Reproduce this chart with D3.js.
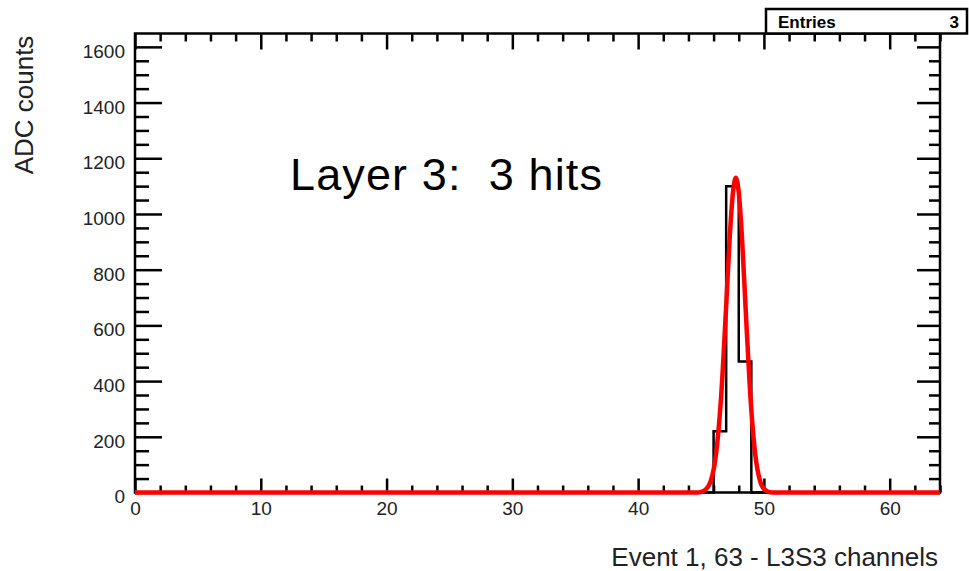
<!DOCTYPE html>
<html>
<head>
<meta charset="utf-8">
<script src="https://cdn.jsdelivr.net/npm/d3@7"></script>
<style>
  body { margin: 0; background: #fff; }
  svg { display: block; font-family: "Liberation Sans", Arial, sans-serif; }
  .axis path { display: none; }
  .axis line { stroke: #000; stroke-width: 2.5; }
  .axis text { font-size: 19px; fill: #222; }
</style>
</head>
<body>
<svg id="chart" width="969" height="571"></svg>
<script>
const nBins = 64;
const hitChannels = [46, 47, 48];
const hitCounts = [220, 1100, 470];
const entries = 3;

// red fit curve (channel, ADC counts)
const fitX = [0, 44.8, 45.3, 45.8, 46.2, 46.6, 47.0, 47.3, 47.55, 47.77, 48.0, 48.25, 48.55, 48.9, 49.3, 49.7, 50.1, 50.6, 64];
const fitY = [0, 0, 8, 45, 140, 345, 670, 930, 1082, 1130, 1078, 921, 658, 363, 141, 41, 9, 0, 0];

const xMajor = [0, 10, 20, 30, 40, 50, 60];
const yMajor = [0, 200, 400, 600, 800, 1000, 1200, 1400, 1600];

const svg = d3.select("#chart");
const frameL = 135, frameR = 940, frameT = 33.5, frameB = 492.5;

const x = d3.scaleLinear().domain([0, 64]).range([frameL, frameR]);
const y = d3.scaleLinear().domain([0, 1648]).range([frameB, frameT]);

const xMinor = d3.range(0, 65, 2).filter((v) => v % 10 !== 0);
const yMinor = d3.range(0, 1648, 50).filter((v) => v % 200 !== 0);

// frame
svg.append("rect")
  .attr("x", frameL).attr("y", frameT)
  .attr("width", frameR - frameL).attr("height", frameB - frameT)
  .attr("fill", "none").attr("stroke", "#000").attr("stroke-width", 2.5);

const noLabel = () => "";

svg.append("g").attr("class", "axis").attr("transform", `translate(0,${frameB})`)
  .call(d3.axisBottom(x).tickValues(xMajor).tickSize(-14).tickPadding(9).tickFormat(d3.format("d")));
svg.append("g").attr("class", "axis").attr("transform", `translate(0,${frameB})`)
  .call(d3.axisBottom(x).tickValues(xMinor).tickSize(-7).tickFormat(noLabel));

svg.append("g").attr("class", "axis").attr("transform", `translate(0,${frameT})`)
  .call(d3.axisTop(x).tickValues(xMajor).tickSize(-16).tickFormat(noLabel));
svg.append("g").attr("class", "axis").attr("transform", `translate(0,${frameT})`)
  .call(d3.axisTop(x).tickValues(xMinor).tickSize(-8).tickFormat(noLabel));

const leftAxis = svg.append("g").attr("class", "axis").attr("transform", `translate(${frameL},0)`)
  .call(d3.axisLeft(y).tickValues(yMajor).tickSize(-27).tickPadding(10).tickFormat(d3.format("d")));
leftAxis.selectAll("text").attr("dy", "0.55em");
svg.append("g").attr("class", "axis").attr("transform", `translate(${frameL},0)`)
  .call(d3.axisLeft(y).tickValues(yMinor).tickSize(-14).tickFormat(noLabel));

svg.append("g").attr("class", "axis").attr("transform", `translate(${frameR},0)`)
  .call(d3.axisRight(y).tickValues(yMajor).tickSize(-23).tickFormat(noLabel));
svg.append("g").attr("class", "axis").attr("transform", `translate(${frameR},0)`)
  .call(d3.axisRight(y).tickValues(yMinor).tickSize(-11).tickFormat(noLabel));

// histogram
const bins = d3.range(nBins).map((i) => {
  const k = hitChannels.indexOf(i);
  return { x0: i, v: k >= 0 ? hitCounts[k] : 0 };
});
const stepPts = bins.map((b) => [b.x0, b.v]).concat([[nBins, bins[nBins - 1].v]]);

svg.append("path")
  .datum(stepPts)
  .attr("fill", "none")
  .attr("stroke", "#000")
  .attr("stroke-width", 2.5)
  .attr("d", d3.line().x((d) => x(d[0])).y((d) => y(d[1])).curve(d3.curveStepAfter));

// fit
const fitPts = fitX.map((v, i) => [v, fitY[i]]);
svg.append("path")
  .datum(fitPts)
  .attr("fill", "none")
  .attr("stroke", "#ff0000")
  .attr("stroke-width", 4.5)
  .attr("stroke-linejoin", "round")
  .attr("d", d3.line().x((d) => x(d[0])).y((d) => y(d[1])).curve(d3.curveMonotoneX));

// titles
svg.append("text")
  .attr("transform", "translate(33,105) rotate(-90)")
  .attr("text-anchor", "middle")
  .attr("font-size", 26)
  .attr("fill", "#222")
  .text("ADC counts");

svg.append("text")
  .attr("x", 938).attr("y", 566)
  .attr("text-anchor", "end")
  .attr("font-size", 26)
  .attr("fill", "#222")
  .text("Event 1, 63 - L3S3 channels");

svg.append("text")
  .attr("x", 290).attr("y", 190)
  .attr("font-size", 45)
  .attr("fill", "#000")
  .attr("textLength", 312)
  .attr("lengthAdjust", "spacing")
  .style("white-space", "pre")
  .text("Layer 3:  3 hits");

// stats box
const stats = svg.append("g");
stats.append("rect")
  .attr("x", 766).attr("y", 9).attr("width", 201).attr("height", 24.5)
  .attr("fill", "#fff").attr("stroke", "#000").attr("stroke-width", 2.5);
stats.append("text")
  .attr("x", 778).attr("y", 28)
  .attr("font-size", 17).attr("font-weight", "bold")
  .text("Entries");
stats.append("text")
  .attr("x", 959).attr("y", 28)
  .attr("text-anchor", "end")
  .attr("font-size", 17).attr("font-weight", "bold")
  .text(entries);
</script>
</body>
</html>
